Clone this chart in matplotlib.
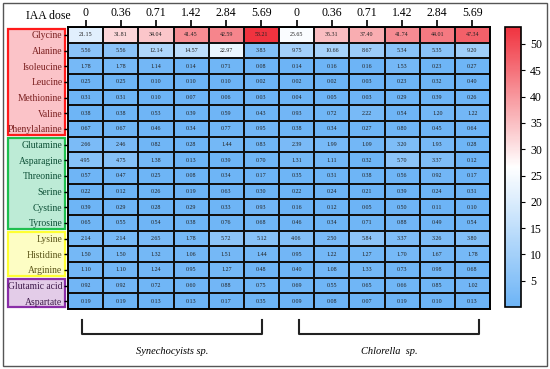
import numpy as np
import matplotlib
matplotlib.use('Agg')
import matplotlib.pyplot as plt
import matplotlib.transforms as mtransforms
from matplotlib.colors import LinearSegmentedColormap
from matplotlib.patches import Rectangle
from matplotlib.lines import Line2D

plt.rcParams['font.family'] = ['Liberation Serif', 'DejaVu Serif']

amino_acids = ['Glycine', 'Alanine', 'Isoleucine', 'Leucine', 'Methionine', 'Valine',
               'Phenylalanine', 'Glutamine', 'Asparagine', 'Threonine', 'Serine',
               'Cystine', 'Tyrosine', 'Lysine', 'Histidine', 'Arginine',
               'Glutamic acid', 'Aspartate']
doses = ['0', '0.36', '0.71', '1.42', '2.84', '5.69']

synechocystis = [
    [21.15, 31.81, 34.04, 41.45, 42.59, 53.21],
    [5.56, 5.56, 12.14, 14.57, 22.97, 3.83],
    [1.78, 1.78, 1.14, 0.14, 0.71, 0.08],
    [0.25, 0.25, 0.10, 0.10, 0.10, 0.02],
    [0.31, 0.31, 0.10, 0.07, 0.06, 0.03],
    [0.38, 0.38, 0.53, 0.39, 0.59, 0.43],
    [0.67, 0.67, 0.46, 0.34, 0.77, 0.95],
    [2.66, 2.46, 0.82, 0.28, 1.44, 0.83],
    [4.95, 4.75, 1.38, 0.13, 0.39, 0.70],
    [0.57, 0.47, 0.25, 0.08, 0.34, 0.17],
    [0.22, 0.12, 0.26, 0.19, 0.63, 0.30],
    [0.39, 0.29, 0.28, 0.29, 0.33, 0.93],
    [0.65, 0.55, 0.54, 0.38, 0.76, 0.68],
    [2.14, 2.14, 2.65, 1.78, 5.72, 5.12],
    [1.50, 1.50, 1.32, 1.06, 1.51, 1.44],
    [1.10, 1.10, 1.24, 0.95, 1.27, 0.48],
    [0.92, 0.92, 0.72, 0.60, 0.88, 0.75],
    [0.19, 0.19, 0.13, 0.13, 0.17, 0.35],
]
chlorella = [
    [25.65, 35.31, 37.40, 41.74, 44.01, 47.34],
    [9.75, 10.66, 8.67, 5.34, 5.35, 9.20],
    [0.14, 0.16, 0.16, 1.53, 0.23, 0.27],
    [0.02, 0.02, 0.03, 0.23, 0.32, 0.40],
    [0.04, 0.05, 0.03, 0.29, 0.39, 0.26],
    [0.93, 0.72, 2.22, 0.54, 1.20, 1.22],
    [0.38, 0.34, 0.27, 0.80, 0.45, 0.64],
    [2.39, 1.99, 1.09, 3.20, 1.93, 0.28],
    [1.31, 1.11, 0.32, 5.70, 3.37, 0.12],
    [0.35, 0.31, 0.38, 0.56, 0.92, 0.17],
    [0.22, 0.24, 0.21, 0.39, 0.24, 0.31],
    [0.16, 0.12, 0.05, 0.50, 0.11, 0.10],
    [0.46, 0.34, 0.71, 0.88, 0.49, 0.54],
    [4.06, 2.50, 5.84, 3.37, 3.26, 3.80],
    [0.95, 1.22, 1.27, 1.70, 1.67, 1.78],
    [0.40, 1.08, 1.33, 0.73, 0.98, 0.68],
    [0.69, 0.55, 0.65, 0.66, 0.85, 1.02],
    [0.09, 0.08, 0.07, 0.19, 0.10, 0.13],
]

# groups: (first row, last row+1, edge colour, fill, text colour)
groups = [(0, 7, '#ff1a1a', '#fbc3c8', '#7a1f1f'),
          (7, 13, '#1fbf4f', '#bdebd6', '#0d4f36'),
          (13, 16, '#ffff33', '#fdfdc4', '#5a5418'),
          (16, 18, '#8a2ea8', '#e3cce8', '#3d1a4a')]

data = np.hstack((np.array(synechocystis), np.array(chlorella)))
nrow, ncol = data.shape

W, H = 550, 369
fig = plt.figure(figsize=(5.5, 3.69), dpi=100)

def fx(px):
    return px / W

def fy(py):
    return 1 - py / H

cmap = LinearSegmentedColormap.from_list('bwr2', ['#6db4f6', '#ffffff', '#f0333f'])

ax = fig.add_axes([fx(68), fy(309), fx(490) - fx(68), fy(27) - fy(309)])
mesh = ax.pcolormesh(data, cmap=cmap, vmin=data.min(), vmax=data.max(),
                     edgecolors='#111111', linewidth=1.3)
ax.set_xlim(0, ncol)
ax.set_ylim(nrow, 0)
for sp in ax.spines.values():
    sp.set_linewidth(1.4)

for i in range(nrow):
    for j in range(ncol):
        ax.text(j + 0.5, i + 0.5, '%.2f' % data[i, j], ha='center', va='center',
                fontsize=4.3, color='#222222')

ax.xaxis.tick_top()
ax.set_xticks(np.arange(ncol) + 0.5)
ax.set_xticklabels(doses + doses, fontsize=8.5)
ax.tick_params(axis='x', length=5, width=1.2, pad=1)
ax.set_yticks(np.arange(nrow) + 0.5)
ax.set_yticklabels(amino_acids, fontsize=6.9)
ax.tick_params(axis='y', length=3, width=1.0, pad=1)

trans = mtransforms.blended_transform_factory(fig.transFigure, ax.transData)
for r0, r1, ec, fc, tc in groups:
    ax.add_patch(Rectangle((fx(7.5), r0 + 0.1), fx(65) - fx(7.5), r1 - r0 - 0.2,
                           transform=trans, facecolor=fc, edgecolor=ec, linewidth=1.6,
                           clip_on=False, zorder=-1))
    for k in range(r0, r1):
        ax.get_yticklabels()[k].set_color(tc)

fig.text(fx(48), fy(16), 'IAA dose', ha='center', va='center', fontsize=8.5)

cax = fig.add_axes([fx(505), fy(307), fx(521) - fx(505), fy(27) - fy(307)])
cb = fig.colorbar(mesh, cax=cax)
cb.set_ticks([5, 10, 15, 20, 25, 30, 35, 40, 45, 50])
cb.ax.tick_params(labelsize=8.5, length=3, width=0.8)
cb.outline.set_linewidth(1.2)

# brackets under the two species
for x0, x1, label in [(82, 262, 'Synechocyists sp.'), (299, 479, 'Chlorella  sp.')]:
    fig.add_artist(Line2D([fx(x0), fx(x0), fx(x1), fx(x1)],
                          [fy(320), fy(334), fy(334), fy(320)],
                          color='#222222', linewidth=1.5))
    fig.text(fx((x0 + x1) / 2), fy(351), label, ha='center', va='center',
             fontsize=7.5, style='italic')

fig.add_artist(Rectangle((fx(3), fy(366)), fx(547) - fx(3), fy(3) - fy(366),
                         transform=fig.transFigure, fill=False, edgecolor='#555555',
                         linewidth=1.0))

fig.savefig('out.png', dpi=100)
